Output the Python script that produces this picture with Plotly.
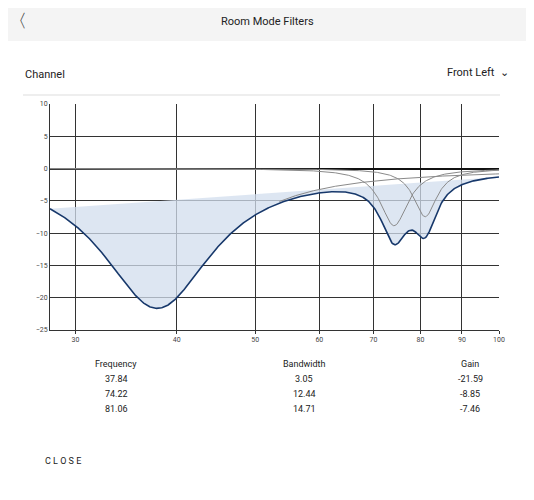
import numpy as np
import plotly.graph_objects as go

# filter table (from the app)
freqs = [37.84, 74.22, 81.06]
bandwidths = [3.05, 12.44, 14.71]
gains = [-21.59, -8.85, -7.46]

x_min, x_max = 27.9, 100
y_ticks = [10, 5, 0, -5, -10, -15, -20, -25]
x_ticks = [30, 40, 50, 60, 70, 80, 90, 100]

OFF = 8  # page body margin
W, H = 534 - OFF, 500 - OFF
L, R, T, B = 50 - OFF, 499 - OFF, 104 - OFF, 330 - OFF

f = np.logspace(np.log10(x_min), np.log10(x_max), 600)

def response(f0, bw, g):
    w = 0.85 / bw
    return g / (1 + (np.log2(f / f0) / w) ** 2)

curves = [response(a, b, c) for a, b, c in zip(freqs, bandwidths, gains)]
total = np.sum(curves, axis=0)

fig = go.Figure()
fig.add_trace(go.Scatter(x=f, y=total, mode="none", fill="toself",
                         fillcolor="rgba(210,222,238,0.75)", hoverinfo="skip"))
for c in curves:
    # only draw where the single filter departs from the sum
    c_vis = np.where(np.abs(c - total) > 0.25, c, np.nan)
    fig.add_trace(go.Scatter(x=f, y=c_vis, mode="lines", line=dict(color="#8a8a8a", width=1)))
fig.add_trace(go.Scatter(x=f, y=total, mode="lines", line=dict(color="#17386b", width=1.6)))

def px(x):
    return (x - OFF - L) / (R - L)

def py(y):
    return (B - (y - OFF)) / (B - T)

fig.update_layout(
    width=W, height=H, showlegend=False,
    paper_bgcolor="white", plot_bgcolor="white",
    margin=dict(l=L, r=W - R, t=T, b=H - B),
    font=dict(family="Roboto", color="#222"),
    xaxis=dict(type="log", range=[np.log10(x_min), np.log10(x_max)], tickvals=x_ticks,
               ticktext=[str(t) for t in x_ticks], showgrid=True, gridcolor="#333",
               gridwidth=1, tickfont=dict(size=7, color="#444"), ticks="outside",
               ticklen=3, tickcolor="#333", showline=True, linecolor="#333", zeroline=False),
    yaxis=dict(range=[-25, 10], tickvals=y_ticks, showgrid=True, gridcolor="#333",
               gridwidth=1, tickfont=dict(size=7, color="#444"), zeroline=True,
               zerolinecolor="#111", zerolinewidth=1.5, showline=True, linecolor="#333"),
)

shapes = [
    dict(type="rect", xref="paper", yref="paper", x0=px(OFF), x1=px(534), y0=py(41), y1=py(OFF),
         fillcolor="#f4f4f4", line=dict(width=0), layer="below"),
    dict(type="line", xref="paper", yref="paper", x0=px(23), x1=px(500), y0=py(95), y1=py(95),
         line=dict(color="#ddd", width=1)),
]
fig.update_layout(shapes=shapes)

def text(s, x, y, size=10, anchor="center", **kw):
    fig.add_annotation(text=s, x=px(x), y=py(y), xref="paper", yref="paper", showarrow=False,
                       xanchor=anchor, yanchor="middle", font=dict(size=size, **kw))

text("〈", 18, 20, size=18, color="#333")
text("Room Mode Filters", 267, 21, size=11)
text("Channel", 23, 74, size=11, anchor="left")
text("Front Left  ⌄", 511, 73, size=11, anchor="right")

cols = [116, 304, 470]
text("Frequency", cols[0], 364, size=9)
text("Bandwidth", cols[1], 364, size=9)
text("Gain", cols[2], 364, size=9)
for i in range(len(freqs)):
    yy = 379 + 15 * i
    text(f"{freqs[i]:.2f}", cols[0], yy, size=9)
    text(f"{bandwidths[i]:.2f}", cols[1], yy, size=9)
    text(f"{gains[i]:.2f}", cols[2], yy, size=9)
text("C L O S E", 43, 461, size=9, anchor="left")

fig.write_html("out.html")
